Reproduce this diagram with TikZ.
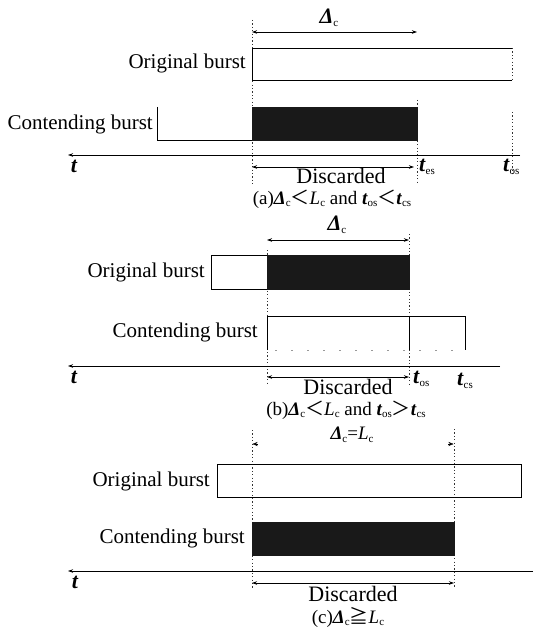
\documentclass[tikz,border=0pt]{standalone}
\usepackage{fontspec}
\setmainfont{Liberation Serif}
\newfontfamily\cjkfont{Noto Sans CJK SC}
\usetikzlibrary{arrows.meta}
\newcommand{\lowsub}[1]{\raisebox{-0.3ex}{\fontsize{11}{11}\selectfont #1}}
\newcommand{\Dlt}{{\bfseries\itshape Δ}\lowsub{c}}
\newcommand{\tvar}[1]{{\bfseries\itshape t}\kern0.3pt\lowsub{#1}}
\newcommand{\Lvar}{{\itshape L}\lowsub{c}}
\newcommand{\lessw}{{\cjkfont ＜}}
\newcommand{\moreq}{{\cjkfont ≧}}
\newcommand{\morew}{{\cjkfont ＞}}
\tikzset{
  lbl/.style={font=\fontsize{21}{23}\selectfont, inner sep=0pt},
  disc/.style={font=\fontsize{22}{24}\selectfont, inner sep=0pt},
  captxt/.style={font=\fontsize{19}{21}\selectfont, inner sep=0pt},
  dim/.style={{Stealth[length=5pt,width=3.5pt]}-{Stealth[length=5pt,width=3.5pt]}, line width=0.8pt},
  axisline/.style={-{Stealth[length=5pt,width=3.5pt]}, line width=0.8pt},
  dotline/.style={line width=0.7pt, dash pattern=on 1.2pt off 2.2pt, black!80},
  boxline/.style={line width=0.8pt},
  discard/.style={fill=black!90, draw=black!90, line width=0.5pt}
}
\begin{document}
\begin{tikzpicture}[x=1pt,y=-1pt]
\useasboundingbox (0,0) rectangle (533,628);
% ---------------- panel (a)
\coordinate (aL) at (252,32); \coordinate (aR) at (417,32);
\draw[dim] (aL) -- (aR);
\node[disc] (aDelta) at (329,18) {\Dlt};
\draw[dotline] (252,20) -- (252,184);
\draw[dotline] (417,100) -- (417,184);
\draw[dotline] (512,112) -- (512,176);
\draw[boxline] (512,48) -- (252,48) -- (252,80) -- (512,80);
\draw[dotline] (512,48) -- (512,80);
\node[lbl, anchor=east] (aOrig) at (246,63) {Original burst};
\draw[boxline] (157,107) -- (157,140) -- (252,140);
\fill[discard] (252,107) rectangle (417,140);
\node[lbl, anchor=east] (aCont) at (153,124) {Contending burst};
\coordinate (aAxR) at (520,155); \coordinate (aAxL) at (68,155);
\draw[axisline] (aAxR) -- (aAxL);
\node[disc] (at) at (74,166) {\bfseries\itshape t};
\coordinate (aDL) at (252,167); \coordinate (aDR) at (414,167);
\draw[dim] (aDL) -- (aDR);
\node[disc, anchor=west] (ates) at (419,167) {\tvar{es}};
\node[disc, anchor=west] (atos) at (503,167) {\tvar{os}};
\node[disc] (adisc) at (341,176) {Discarded};
\node[captxt] (acap) at (332,199) {(a)\Dlt\lessw\Lvar{} and \tvar{os}\lessw\tvar{cs}};
% ---------------- panel (b)
\coordinate (bL) at (267,240); \coordinate (bR) at (409,240);
\draw[dim] (bL) -- (bR);
\node[disc] (bDelta) at (337,225) {\Dlt};
\draw[dotline] (267,250) -- (267,384);
\draw[dotline] (409,234) -- (409,384);
\draw[boxline] (211,255) rectangle (267,289);
\fill[discard] (267,255) rectangle (409,289);
\node[lbl, anchor=east] (bOrig) at (205,272) {Original burst};
\draw[boxline] (267,350) -- (267,316) -- (465,316) -- (465,350);
\draw[boxline] (409,316) -- (409,350);
\draw[line width=0.6pt, black!40, dash pattern=on 2pt off 14pt] (275,350) -- (460,350);
\node[lbl, anchor=east] (bCont) at (258,332) {Contending burst};
\coordinate (bAxR) at (500,366); \coordinate (bAxL) at (68,366);
\draw[axisline] (bAxR) -- (bAxL);
\node[disc] (bt) at (74,377) {\bfseries\itshape t};
\coordinate (bDL) at (267,377); \coordinate (bDR) at (409,377);
\draw[dim] (bDL) -- (bDR);
\node[disc, anchor=west] (btos) at (413,379) {\tvar{os}};
\node[disc, anchor=west] (btcs) at (457,381) {\tvar{cs}};
\node[disc] (bdisc) at (348,387) {Discarded};
\node[captxt] (bcap) at (346,410) {(b)\Dlt\lessw\Lvar{} and \tvar{os}\morew\tvar{cs}};
% ---------------- panel (c)
\node[captxt] (cEq) at (352,435) {\Dlt=\Lvar};
\draw[dotline] (252,430) -- (252,588);
\draw[dotline] (454,429) -- (454,587);
\coordinate (cAl0) at (258,444); \coordinate (cAl1) at (252.5,444);
\coordinate (cAr0) at (448,444); \coordinate (cAr1) at (453.5,444);
\draw[-{Stealth[length=5pt,width=4pt]}, line width=0.4pt] (cAl0) -- (cAl1);
\draw[-{Stealth[length=5pt,width=4pt]}, line width=0.4pt] (cAr0) -- (cAr1);
\draw[boxline] (217,464) rectangle (521,497);
\node[lbl, anchor=east] (cOrig) at (210,481) {Original burst};
\fill[discard] (252,522) rectangle (454,555);
\node[lbl, anchor=east] (cCont) at (245,538) {Contending burst};
\coordinate (cAxR) at (533,571); \coordinate (cAxL) at (68,571);
\draw[axisline] (cAxR) -- (cAxL);
\node[disc] (ct) at (75,582) {\bfseries\itshape t};
\coordinate (cDL) at (252,583); \coordinate (cDR) at (454,583);
\draw[dim] (cDL) -- (cDR);
\node[disc] (cdisc) at (353,594) {Discarded};
\node[captxt] (ccap) at (348,617) {(c)\Dlt\moreq\Lvar};
\end{tikzpicture}
\end{document}
